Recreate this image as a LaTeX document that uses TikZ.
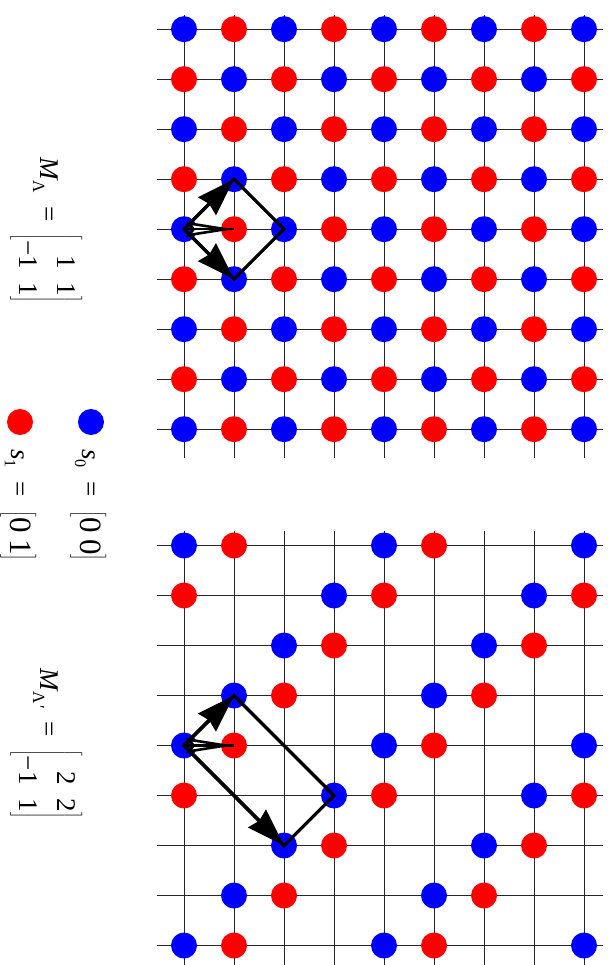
\documentclass[tikz,border=0pt]{standalone}
\usepackage{fontspec}
\setmainfont{Liberation Serif}
\usetikzlibrary{arrows.meta}
\definecolor{latblue}{RGB}{0,0,255}
\definecolor{latred}{RGB}{255,0,0}
\newcommand{\latsub}[2][17]{\raisebox{-7pt}{\fontsize{#1}{#1}\selectfont #2}}
\tikzset{
  blue dot/.style={circle, fill=latblue, inner sep=0pt, minimum size=26pt},
  red dot/.style={circle, fill=latred, inner sep=0pt, minimum size=26pt},
  grid line/.style={line width=0.9pt, draw=black!85},
  basis arrow/.style={-{Stealth[length=38pt,width=25pt,inset=3pt]}, line width=3.2pt},
  shift arrow/.style={-{Stealth[length=48pt,width=15pt,inset=6pt,fill=white,line width=2.6pt]},
    line width=2.2pt, postaction={draw, -}},
  cell box/.style={line width=3.2pt, line join=miter},
  label text/.style={rotate=-90, inner sep=0pt, anchor=base west, font=\fontsize{27}{38}\selectfont},
}

\begin{document}
\begin{tikzpicture}[x=1pt,y=-1pt]
  \useasboundingbox (0,0) rectangle (613,965);

  % square lattice
  \foreach \j in {0,...,8}
    \draw[grid line] (157,29.2+50*\j) -- (603,29.2+50*\j);
  \foreach \i in {0,...,8}
    \draw[grid line] (184+50*\i,15) -- (184+50*\i,458);
  \foreach \i in {0,...,8}
    \foreach \j in {0,...,8} {
      \pgfmathtruncatemacro\k{mod(\i+\j,2)}
      \ifnum\k=0
        \node[blue dot] (p-\i-\j) at (184+50*\i,29.2+50*\j) {};
      \else
        \node[red dot] (p-\i-\j) at (184+50*\i,29.2+50*\j) {};
      \fi
    }
  \draw[cell box] (p-0-4.center) -- (p-1-3.center) -- (p-2-4.center) -- (p-1-5.center) -- cycle;
  \draw[basis arrow] (p-0-4.center) -- (p-1-3.center);
  \draw[basis arrow] (p-0-4.center) -- (p-1-5.center);
  \draw[shift arrow] (p-0-4.center) -- (p-1-4.center);

  % sparse lattice
  \foreach \j in {0,...,8}
    \draw[grid line] (157,545.5+50*\j) -- (603,545.5+50*\j);
  \foreach \i in {0,...,8}
    \draw[grid line] (184+50*\i,531) -- (184+50*\i,965);
  \foreach \i in {0,...,8}
    \foreach \j in {0,...,8} {
      \pgfmathtruncatemacro\k{mod(\i+\j,4)}
      \ifnum\k=0
        \node[blue dot] (q-\i-\j) at (184+50*\i,545.5+50*\j) {};
      \fi
      \ifnum\k=1
        \node[red dot] (q-\i-\j) at (184+50*\i,545.5+50*\j) {};
      \fi
    }
  \draw[cell box] (q-0-4.center) -- (q-1-3.center) -- (q-3-5.center) -- (q-2-6.center) -- cycle;
  \draw[basis arrow] (q-0-4.center) -- (q-1-3.center);
  \draw[basis arrow] (q-0-4.center) -- (q-2-6.center);
  \draw[shift arrow] (q-0-4.center) -- (q-1-4.center);

  % labels
  \node[label text] (mlam) at (40,157)
    {\textit{M}\latsub{Λ}\hspace{13pt}=\hspace{12pt}$\left[\begin{tabular}{@{}r@{\hspace{14pt}}r@{}}1&1\\−1&1\end{tabular}\right]$};
  \node[label text] (mlamp) at (40,668)
    {\textit{M}\latsub{Λ\kern1pt′}\hspace{13pt}=\hspace{12pt}$\left[\begin{tabular}{@{}r@{\hspace{14pt}}r@{}}2&2\\−1&1\end{tabular}\right]$};

  \node[blue dot] (leg0) at (91,422) {};
  \node[red dot] (leg1) at (20,422) {};
  \node[label text] (s0) at (82,449)
    {\textit{s}\latsub[16]{0}\hspace{14pt}=\hspace{14pt}$\left[\begin{tabular}{@{}c@{\hspace{6pt}}c@{}}\fontsize{31}{38}\selectfont 0&\fontsize{31}{38}\selectfont 0\end{tabular}\right]$};
  \node[label text] (s1) at (12,449)
    {\textit{s}\latsub[16]{1}\hspace{14pt}=\hspace{14pt}$\left[\begin{tabular}{@{}c@{\hspace{6pt}}c@{}}\fontsize{31}{38}\selectfont 0&\fontsize{31}{38}\selectfont 1\end{tabular}\right]$};
\end{tikzpicture}
\end{document}
